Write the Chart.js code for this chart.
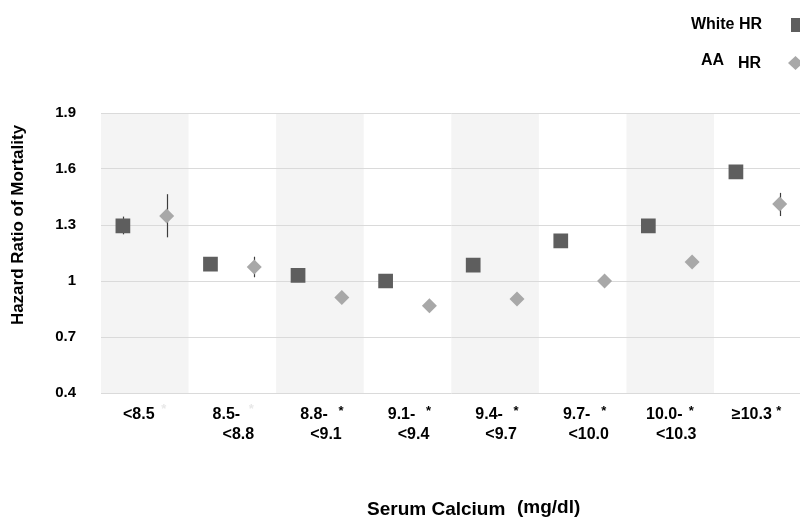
<!DOCTYPE html>
<html>
<head>
<meta charset="utf-8">
<script src="https://cdn.jsdelivr.net/npm/chart.js@4.4.1/dist/chart.umd.min.js"></script>
<style>
  html, body { margin: 0; padding: 0; background: #fff; overflow: hidden; }
  #wrap { position: absolute; left: 0; top: 0; width: 812px; height: 519px; }
</style>
</head>
<body>
<div id="wrap"><canvas id="c" width="812" height="519"></canvas></div>
<script>
// ---- data ----
const catLine1 = ['<8.5', '8.5-', '8.8-', '9.1-', '9.4-', '9.7-', '10.0-', '\u226510.3'];
const catLine2 = ['', '<8.8', '<9.1', '<9.4', '<9.7', '<10.0', '<10.3', ''];
const catStar = [false, false, true, true, true, true, true, true];
const whiteHR = [1.295, 1.09, 1.03, 1.00, 1.085, 1.215, 1.295, 1.585];
const whiteLo = [1.25, 1.07, 1.01, 0.98, 1.065, 1.195, 1.275, 1.565];
const whiteHi = [1.345, 1.11, 1.05, 1.02, 1.105, 1.235, 1.315, 1.605];
const aaHR = [1.348, 1.075, 0.912, 0.868, 0.903, 1.00, 1.102, 1.413];
const aaLo = [1.234, 1.02, 0.90, 0.855, 0.89, 0.985, 1.085, 1.348];
const aaHi = [1.465, 1.13, 0.925, 0.88, 0.915, 1.015, 1.12, 1.472];
const yTicks = [0.4, 0.7, 1, 1.3, 1.6, 1.9];

const FONT = '"Liberation Sans", Arial, sans-serif';
const WHITE_COL = '#5e5e5e';
const AA_COL = '#a8a8a8';

const whitePts = whiteHR.map((v, i) => ({ x: i + 1 - 0.25, y: v }));
const aaPts = aaHR.map((v, i) => ({ x: i + 1 + 0.25, y: v }));

const bandsPlugin = {
  id: 'bands',
  beforeDraw(chart) {
    const { ctx, chartArea, scales } = chart;
    ctx.save();
    ctx.fillStyle = '#f4f4f4';
    for (let i = 0; i < catLine1.length; i += 2) {
      const l = scales.x.getPixelForValue(i + 0.5);
      const r = scales.x.getPixelForValue(i + 1.5);
      ctx.fillRect(l, chartArea.top, r - l, chartArea.bottom - chartArea.top);
    }
    ctx.restore();
  }
};

const errPlugin = {
  id: 'errbars',
  beforeDatasetsDraw(chart) {
    const { ctx, scales } = chart;
    ctx.save();
    ctx.strokeStyle = '#3c3c3c';
    ctx.lineWidth = 1.2;
    const draw = (pts, lo, hi) => {
      pts.forEach((p, i) => {
        const x = Math.round(scales.x.getPixelForValue(p.x)) + 0.5;
        ctx.beginPath();
        ctx.moveTo(x, scales.y.getPixelForValue(lo[i]));
        ctx.lineTo(x, scales.y.getPixelForValue(hi[i]));
        ctx.stroke();
      });
    };
    draw(whitePts, whiteLo, whiteHi);
    draw(aaPts, aaLo, aaHi);
    ctx.restore();
  }
};

const textPlugin = {
  id: 'texts',
  afterDraw(chart) {
    const { ctx, scales } = chart;
    ctx.save();
    ctx.fillStyle = '#000';
    ctx.textBaseline = 'middle';
    // x category labels
    catLine1.forEach((t, i) => {
      const cx = scales.x.getPixelForValue(i + 1);
      ctx.font = 'bold 16px ' + FONT;
      ctx.textAlign = 'center';
      ctx.fillStyle = '#000';
      ctx.fillText(t, cx - 6, 415);
      if (catLine2[i]) ctx.fillText(catLine2[i], cx + 6, 435);
      ctx.font = 'bold 13px ' + FONT;
      if (catStar[i]) {
        ctx.fillText('*', cx + 21, 411);
      } else {
        ctx.fillStyle = '#e8e8e8';
        ctx.fillText('*', cx + 19, 409);
      }
    });
    ctx.fillStyle = '#000';
    // axis titles
    ctx.font = 'bold 19px ' + FONT;
    ctx.textAlign = 'left';
    ctx.fillText('Serum Calcium', 367, 510);
    ctx.fillText('(mg/dl)', 517, 508);
    ctx.save();
    ctx.translate(18, 225);
    ctx.rotate(-Math.PI / 2);
    ctx.textAlign = 'center';
    ctx.font = 'bold 17px ' + FONT;
    ctx.fillText('Hazard Ratio of Mortality', 0, 0);
    ctx.restore();
    // legend
    ctx.font = 'bold 16px ' + FONT;
    ctx.textAlign = 'right';
    ctx.fillText('White HR', 762, 25);
    ctx.fillText('AA', 724, 61);
    ctx.fillText('HR', 761, 64);
    ctx.fillStyle = WHITE_COL;
    ctx.fillRect(791, 18, 14, 14);
    ctx.fillStyle = AA_COL;
    ctx.beginPath();
    ctx.moveTo(788, 63);
    ctx.lineTo(795.5, 56);
    ctx.lineTo(803, 63);
    ctx.lineTo(795.5, 70);
    ctx.closePath();
    ctx.fill();
    ctx.restore();
  }
};

new Chart(document.getElementById('c'), {
  type: 'scatter',
  data: {
    datasets: [
      {
        label: 'White HR',
        data: whitePts,
        pointStyle: 'rect',
        pointRadius: 10.4,
        pointHoverRadius: 10.4,
        backgroundColor: WHITE_COL,
        borderColor: WHITE_COL,
        borderWidth: 0
      },
      {
        label: 'AA HR',
        data: aaPts,
        pointStyle: 'rectRot',
        pointRadius: 7.5,
        pointHoverRadius: 7.5,
        backgroundColor: AA_COL,
        borderColor: AA_COL,
        borderWidth: 0
      }
    ]
  },
  options: {
    responsive: false,
    animation: false,
    events: [],
    layout: { padding: { left: 0, top: 113, right: 1, bottom: 0 } },
    plugins: { legend: { display: false }, tooltip: { enabled: false }, title: { display: false } },
    scales: {
      x: {
        type: 'linear',
        min: 0.5,
        max: 8.5,
        grid: { display: false },
        border: { display: false },
        ticks: { display: false },
        afterFit(s) { s.height = 126; }
      },
      y: {
        min: 0.4,
        max: 1.9,
        afterBuildTicks(s) { s.ticks = yTicks.map(v => ({ value: v })); },
        grid: { color: '#dadada', lineWidth: 1, drawTicks: false },
        border: { display: false },
        ticks: {
          padding: 25,
          color: '#000',
          font: { family: FONT, size: 15, weight: 'bold' },
          callback: v => String(Math.round(v * 10) / 10)
        },
        afterFit(s) { s.width = 101; }
      }
    }
  },
  plugins: [bandsPlugin, errPlugin, textPlugin]
});
</script>
</body>
</html>
